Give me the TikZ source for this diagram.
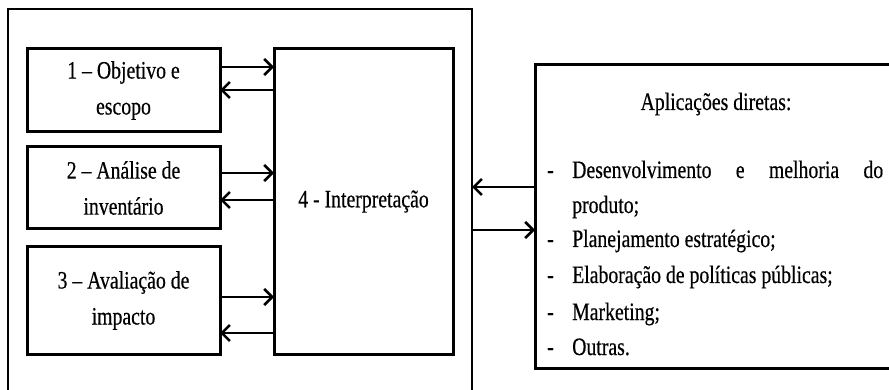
\documentclass[tikz,border=0pt]{standalone}
\usepackage{fontspec}
\setmainfont{Liberation Serif}[FakeStretch=0.79,FakeBold=0.4]
\usetikzlibrary{arrows.meta}
\begin{document}
\begin{tikzpicture}[x=1pt,y=-1pt,
  frame/.style={draw=black,line width=3pt,inner sep=0pt,outer sep=0pt,fill=none},
  stepbox/.style={frame,align=center,font=\fontsize{25}{36}\selectfont},
  arr/.style={line width=2.6pt,-{Straight Barb[length=8pt,width=16pt,line width=2.6pt]}},
  txt/.style={inner sep=0pt,anchor=base west,font=\fontsize{25}{35}\selectfont}]
\useasboundingbox (0,0) rectangle (889,390);
\fill[white] (0,0) rectangle (889,390);
% outer frame
\node[frame,line width=2.6pt,minimum width=464pt,minimum height=420pt,anchor=north west] (outer) at (8,9) {};
% step boxes
\node[stepbox,minimum width=193pt,minimum height=83pt,anchor=north west] (b1) at (27,49) {1 – Objetivo e\\escopo};
\node[stepbox,minimum width=193pt,minimum height=82pt,anchor=north west] (b2) at (27,147) {2 – Análise de\\inventário};
\node[stepbox,minimum width=193pt,minimum height=107pt,anchor=north west] (b3) at (27,247) {3 – Avaliação de\\impacto};
\node[stepbox,minimum width=179pt,minimum height=305pt,anchor=north west] (b4) at (274,49) {4 - Interpretação};
% arrows between steps and interpretation
\draw[arr] (b1.east |- 0,67) -- (b4.west |- 0,67);
\draw[arr] (b4.west |- 0,90) -- (b1.east |- 0,90);
\draw[arr] (b2.east |- 0,173) -- (b4.west |- 0,173);
\draw[arr] (b4.west |- 0,200) -- (b2.east |- 0,200);
\draw[arr] (b3.east |- 0,297) -- (b4.west |- 0,297);
\draw[arr] (b4.west |- 0,333) -- (b3.east |- 0,333);
% right box
\node[frame,minimum width=370pt,minimum height=303pt,anchor=north west] (r) at (535,65) {};
\draw[arr] (r.west |- 0,187) -- (outer.east |- 0,187);
\draw[arr] (outer.east |- 0,230) -- (r.west |- 0,230);
% right box text
\node[inner sep=0pt,anchor=base,font=\fontsize{25}{35}\selectfont] (t0) at (716,110) {Aplicações diretas:};
\node[txt] (d1) at (547,178) {-};
\node[txt] (t1) at (572,178) {\makebox[311pt][s]{Desenvolvimento e melhoria do}};
\node[txt] (t1b) at (572,213) {produto;};
\node[txt] (d2) at (547,247) {-};
\node[txt] (t2) at (572,247) {Planejamento estratégico;};
\node[txt] (d3) at (547,283) {-};
\node[txt] (t3) at (572,283) {Elaboração de políticas públicas;};
\node[txt] (d4) at (547,320) {-};
\node[txt] (t4) at (572,320) {Marketing;};
\node[txt] (d5) at (547,355) {-};
\node[txt] (t5) at (572,355) {Outras.};
\end{tikzpicture}
\end{document}
